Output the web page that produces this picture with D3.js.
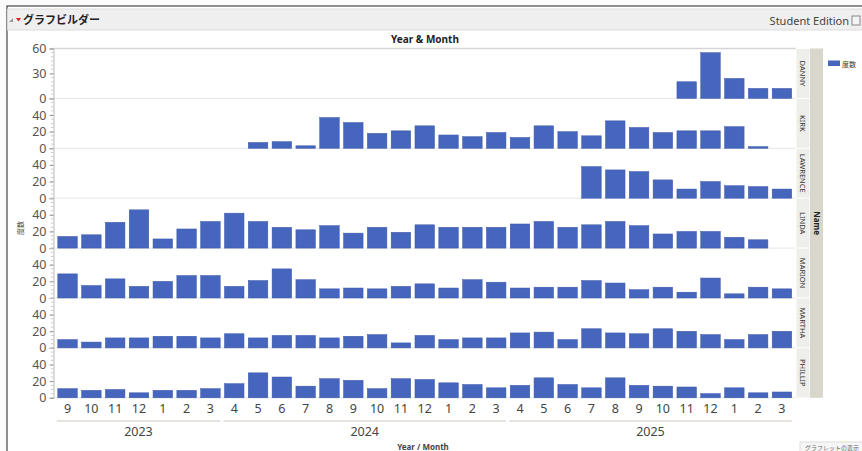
<!DOCTYPE html>
<html>
<head>
<meta charset="utf-8">
<script src="https://cdn.jsdelivr.net/npm/d3@7"></script>
<style>
  body { margin: 0; background: #fff; }
  text { font-family: "Noto Sans", "DejaVu Sans", sans-serif; }
  .jp { font-family: "Noto Sans CJK JP", "Noto Sans", sans-serif; }
</style>
</head>
<body>
<div id="chart"></div>
<script>
// months from Sep 2023 to Mar 2026, grouped by fiscal year
const months = ["9","10","11","12","1","2","3","4","5","6","7","8","9","10","11","12","1","2","3","4","5","6","7","8","9","10","11","12","1","2","3"];
const fiscalYears = ["2023", "2024", "2025"];
const yearSpans = [[0, 6], [7, 18], [19, 30]];
const names = ["DANNY", "KIRK", "LAWRENCE", "LINDA", "MARION", "MARTHA", "PHILLIP"];

const danny = [null,null,null,null,null,null,null,null,null,null,null,null,null,null,null,null,null,null,null,null,null,null,null,null,null,null,20,55,24,12,12];
const kirk = [null,null,null,null,null,null,null,null,7,8,3,37,31,18,21,27,16,14,19,13,27,20,15,33,25,19,21,21,26,2,null];
const lawrence = [null,null,null,null,null,null,null,null,null,null,null,null,null,null,null,null,null,null,null,null,null,null,38,34,32,22,11,20,15,14,11];
const linda = [14,16,31,46,11,23,32,42,32,25,22,27,18,25,19,28,25,25,25,29,32,25,28,32,27,17,20,20,13,10,null];
const marion = [29,15,23,14,20,27,27,14,21,35,22,11,12,11,14,17,12,22,19,12,13,13,21,18,10,13,7,24,5,13,11];
const martha = [10,7,12,12,14,14,12,17,12,15,15,12,14,16,6,15,10,12,12,18,19,10,23,18,17,23,20,16,10,16,20];
const phillip = [11,9,10,6,9,9,11,17,30,25,14,23,21,11,23,22,18,16,12,15,24,16,12,24,15,14,13,5,12,6,7];

const series = [danny, kirk, lawrence, linda, marion, martha, phillip];
const tickSets = [[0, 30, 60], [0, 20, 40], [0, 20, 40], [0, 20, 40], [0, 20, 40], [0, 20, 40], [0, 20, 40]];

const W = 862, H = 451;
const plotL = 53.5, plotR = 796, plotT = 48.5, panelH = 49.9;
const barColor = "#4666be";

const svg = d3.select("#chart").append("svg")
    .attr("width", W).attr("height", H);

// window frame + header
svg.append("rect").attr("x", 0).attr("y", 0).attr("width", W).attr("height", H).attr("fill", "#fbfbfb");
svg.append("rect").attr("x", 7).attr("y", 6).attr("width", W).attr("height", H)
    .attr("fill", "#ffffff").attr("stroke", "#444").attr("stroke-width", 1.2);
svg.append("rect").attr("x", 7.6).attr("y", 9).attr("width", W).attr("height", 21)
    .attr("fill", "#efefef").attr("stroke", "#dcdcdc");
svg.append("path").attr("d", "M9,22 L13,18 L13,22 Z").attr("fill", "#999");
svg.append("path").attr("d", "M16,18 L21,18 L18.5,21.5 Z").attr("fill", "#d22");
svg.append("text").attr("class", "jp").attr("x", 23).attr("y", 23.5)
    .attr("font-size", 11).attr("font-weight", "bold").attr("fill", "#222").text("グラフビルダー");
svg.append("text").attr("x", 849).attr("y", 24.5).attr("text-anchor", "end")
    .attr("font-size", 11).attr("fill", "#444").text("Student Edition");
svg.append("rect").attr("x", 852).attr("y", 16).attr("width", 8).attr("height", 9)
    .attr("fill", "#f4f4f4").attr("stroke", "#888");

// group title
svg.append("text").attr("x", 425).attr("y", 43).attr("text-anchor", "middle")
    .attr("font-size", 10).attr("font-weight", "bold").attr("fill", "#222").text("Year & Month");

const x = d3.scaleBand()
    .domain(d3.range(months.length))
    .range([plotL, plotR])
    .paddingInner(0.18)
    .paddingOuter(0.18);

// outer top line of plot
svg.append("line").attr("x1", plotL).attr("x2", plotR).attr("y1", plotT).attr("y2", plotT)
    .attr("stroke", "#d6d6d6").attr("stroke-width", 1.5);

names.forEach(function(name, k) {
    const top = plotT + k * panelH;
    const y = d3.scaleLinear().domain([0, 60]).range([top + panelH, top]);
    const g = svg.append("g");

    // panel baseline
    g.append("line").attr("x1", plotL).attr("x2", plotR)
        .attr("y1", y(0)).attr("y2", y(0)).attr("stroke", "#e6e6e6");

    // minor ticks
    g.selectAll(".minor").data(d3.range(0, 61, 5)).enter().append("line")
        .attr("x1", plotL - 2.5).attr("x2", plotL)
        .attr("y1", d => y(d)).attr("y2", d => y(d))
        .attr("stroke", "#aaa").attr("stroke-width", 0.6);

    // major ticks + labels
    const ax = g.append("g").attr("transform", "translate(" + plotL + ",0)")
        .call(d3.axisLeft(y).tickValues(tickSets[k]).tickSize(4).tickPadding(3));
    ax.select(".domain").attr("stroke", "#bbb");
    ax.selectAll(".tick line").attr("stroke", "#999");
    ax.selectAll(".tick text").attr("font-size", 13).attr("fill", "#555")
        .attr("font-family", "'DejaVu Sans', sans-serif").attr("font-size", 12.5);

    // bars
    const vals = series[k].map((v, i) => ({ i: i, v: v })).filter(d => d.v !== null);
    g.selectAll("rect.bar").data(vals).enter().append("rect")
        .attr("class", "bar")
        .attr("x", d => x(d.i))
        .attr("y", d => y(d.v))
        .attr("width", x.bandwidth())
        .attr("height", d => y(0) - y(d.v))
        .attr("fill", barColor)
        .attr("stroke", "#3a57a8").attr("stroke-width", 0.5);

    // name strip
    g.append("rect").attr("x", plotR).attr("y", top).attr("width", 14).attr("height", panelH)
        .attr("fill", "#eeeeea").attr("stroke", "#fff").attr("stroke-width", 0.8);
    g.append("text")
        .attr("transform", "translate(" + (plotR + 4) + "," + (top + panelH / 2) + ") rotate(90)")
        .attr("text-anchor", "middle").attr("font-size", 7.5).attr("fill", "#333").text(name);
});

// outer "Name" strip
svg.append("rect").attr("x", plotR + 14).attr("y", plotT).attr("width", 13).attr("height", panelH * 7)
    .attr("fill", "#d9d7cc");
svg.append("text")
    .attr("transform", "translate(" + (plotR + 17.5) + "," + (plotT + panelH * 3.5) + ") rotate(90)")
    .attr("text-anchor", "middle").attr("font-size", 8).attr("font-weight", "bold")
    .attr("fill", "#222").text("Name");

// x axis labels
svg.selectAll(".mlab").data(months).enter().append("text")
    .attr("x", (d, i) => x(i) + x.bandwidth() / 2)
    .attr("y", 413)
    .attr("text-anchor", "middle")
    .attr("font-family", "'DejaVu Sans', sans-serif")
    .attr("font-size", 12.5).attr("fill", "#444").text(d => d);

fiscalYears.forEach(function(yr, j) {
    const a = x(yearSpans[j][0]) - 2, b = x(yearSpans[j][1]) + x.bandwidth() + 1;
    svg.append("line").attr("x1", a + 1).attr("x2", b - 1).attr("y1", 421).attr("y2", 421)
        .attr("stroke", "#cfc6bd").attr("stroke-width", 1.2);
    svg.append("text").attr("x", (a + b) / 2).attr("y", 436).attr("text-anchor", "middle")
        .attr("font-family", "'DejaVu Sans', sans-serif")
        .attr("font-size", 12.5).attr("fill", "#444").text(yr);
});

svg.append("text").attr("x", 423).attr("y", 449.5).attr("text-anchor", "middle")
    .attr("font-size", 8).attr("font-weight", "bold").attr("fill", "#444").text("Year / Month");

// y axis title
svg.append("text").attr("class", "jp")
    .attr("transform", "translate(23,228) rotate(-90)")
    .attr("text-anchor", "middle").attr("font-size", 7).attr("fill", "#444").text("度数");

// legend
svg.append("rect").attr("x", 828).attr("y", 60.5).attr("width", 12).attr("height", 5.5).attr("fill", barColor);
svg.append("text").attr("class", "jp").attr("x", 842).attr("y", 66.5)
    .attr("font-size", 7).attr("fill", "#333").text("度数");

// small button bottom right
svg.append("rect").attr("x", 800).attr("y", 442).attr("width", 70).attr("height", 14)
    .attr("fill", "#f6f6f6").attr("stroke", "#ddd");
svg.append("text").attr("class", "jp").attr("x", 805).attr("y", 450)
    .attr("font-size", 6).attr("fill", "#666").text("グラフレットの表示");
</script>
</body>
</html>
